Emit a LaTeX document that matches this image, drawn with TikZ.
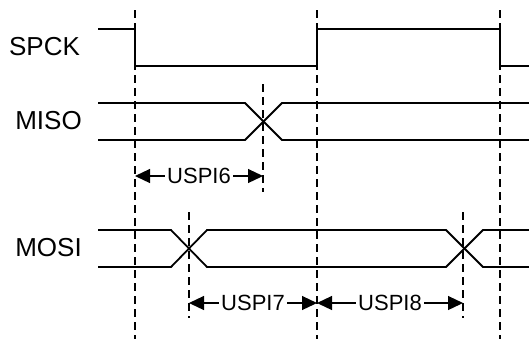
\documentclass[tikz,border=0pt]{standalone}
\usepackage{fontspec}
\setmainfont{Liberation Sans}
\usetikzlibrary{arrows.meta}
\begin{document}
\begin{tikzpicture}[x=0.5pt,y=-0.5pt,
    sig/.style={line width=0.9pt},
    guide/.style={line width=0.8pt,dash pattern=on 4pt off 2.5pt},
    dim/.style={line width=0.6pt,{Triangle[length=7.5pt,width=7pt]}-{Triangle[length=7.5pt,width=7pt]}},
    signame/.style={font=\fontsize{13}{16}\selectfont,inner sep=0pt},
    dimtxt/.style={fill=white,inner sep=1pt,font=\fontsize{11}{13}\selectfont}]
    \useasboundingbox (0,0) rectangle (529,339);
    \node[signame] (spck) at (44.5,47) {SPCK};
    \node[signame] (miso) at (48.5,121) {MISO};
    \node[signame] (mosi) at (48.5,248) {MOSI};
    \foreach \x in {135,317,500} \draw[guide] (\x,10) -- (\x,339);
    \draw[guide] (263,84) -- (263,192);
    \draw[guide] (189,212) -- (189,318);
    \draw[guide] (463,212) -- (463,318);
    \draw[sig] (98,29) -- (135,29) -- (135,66) -- (317,66) -- (317,29) -- (500,29) -- (500,66) -- (529,66);
    \draw[sig] (98,103) -- (245,103) -- (282,140) -- (529,140);
    \draw[sig] (98,140) -- (245,140) -- (282,103) -- (529,103);
    \draw[sig] (98,230) -- (171,230) -- (207,267) -- (446,267) -- (483,230) -- (529,230);
    \draw[sig] (98,267) -- (171,267) -- (207,230) -- (446,230) -- (483,267) -- (529,267);
    \coordinate (a6) at (135,176);
    \coordinate (b6) at (263,176);
    \coordinate (a7) at (189,303);
    \coordinate (b7) at (317,303);
    \coordinate (b8) at (463,303);
    \draw[dim] (a6) -- node[dimtxt] (uspi6) {USPI6} (b6);
    \draw[dim] (a7) -- node[dimtxt] (uspi7) {USPI7} (b7);
    \draw[dim] (b7) -- node[dimtxt] (uspi8) {USPI8} (b8);
\end{tikzpicture}
\end{document}
